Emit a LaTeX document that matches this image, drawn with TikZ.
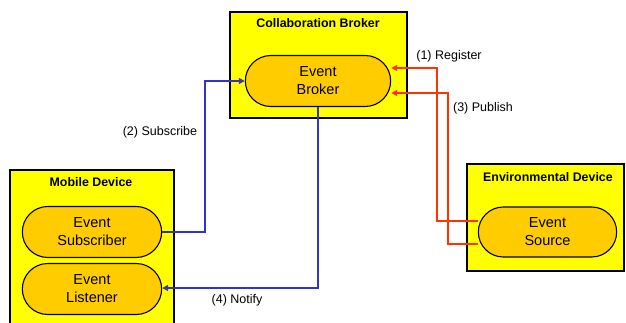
\documentclass[tikz,border=0pt]{standalone}
\usepackage{fontspec}
\setmainfont{Liberation Sans}
\usetikzlibrary{shapes.misc,arrows.meta}
\definecolor{boxyellow}{HTML}{FFFF00}
\definecolor{pillorange}{HTML}{FFCC00}
\definecolor{flowred}{HTML}{FF3300}
\definecolor{flowblue}{HTML}{3333CC}
\tikzset{
  device/.style={draw, line width=1.3pt, fill=boxyellow, inner sep=0pt},
  devtitle/.style={font=\bfseries\fontsize{12.4}{14}\selectfont},
  pill/.style={rounded rectangle, draw, line width=1.1pt, fill=pillorange,
    minimum width=146pt, minimum height=51pt, align=center,
    font=\fontsize{14.5}{18}\selectfont},
  redflow/.style={draw=flowred, line width=2.5pt, -{Triangle[length=6pt,width=6pt]}},
  blueflow/.style={draw=flowblue, line width=2.5pt, -{Triangle[length=6pt,width=6pt]}},
  steplabel/.style={font=\fontsize{12.5}{14}\selectfont}
}
\begin{document}
\begin{tikzpicture}[x=1pt, y=-1pt]
        \useasboundingbox (0,0) rectangle (626,322);
        % containers
        \node[device, minimum width=177pt, minimum height=106pt] (collab) at (318.5,65) {};
        \node[device, minimum width=164pt, minimum height=160pt] (mobile) at (92,250) {};
        \node[device, minimum width=157pt, minimum height=107pt] (envdev) at (545.5,217.5) {};
        \node[devtitle] (collabT) at (318,23) {Collaboration Broker};
        \node[devtitle] (mobileT) at (91,182) {Mobile Device};
        \node[devtitle] (envdevT) at (548,177) {Environmental Device};
        % components
        \node[pill, minimum width=152pt] (broker) at (318,81) {Event\\Broker};
        \node[pill] (subscriber) at (92,232) {Event\\Subscriber};
        \node[pill] (listener) at (92,289) {Event\\Listener};
        \node[pill, minimum width=145pt, minimum height=50pt] (source) at (547.5,232) {Event\\Source};
        % message flows
        \coordinate (reg) at (source.west |- 0,221);
        \coordinate (pub) at (source.west |- 0,244);
        \draw[redflow] (reg) -- (437,221) -- (437,68) -- (broker.east |- 0,68);
        \draw[redflow] (pub) -- (448,244) -- (448,93) -- (broker.east |- 0,93);
        \draw[blueflow] (subscriber.east) -- (205,232) -- (205,81) -- (broker.west);
        \draw[blueflow] (broker.south) -- (318,288) -- (listener.east |- 0,288);
        \node[steplabel] (regL) at (449,56) {(1) Register};
        \node[steplabel] (pubL) at (483,108) {(3) Publish};
        \node[steplabel] (subL) at (160,132) {(2) Subscribe};
        \node[steplabel] (notL) at (237,300) {(4) Notify};
    \end{tikzpicture}
\end{document}
